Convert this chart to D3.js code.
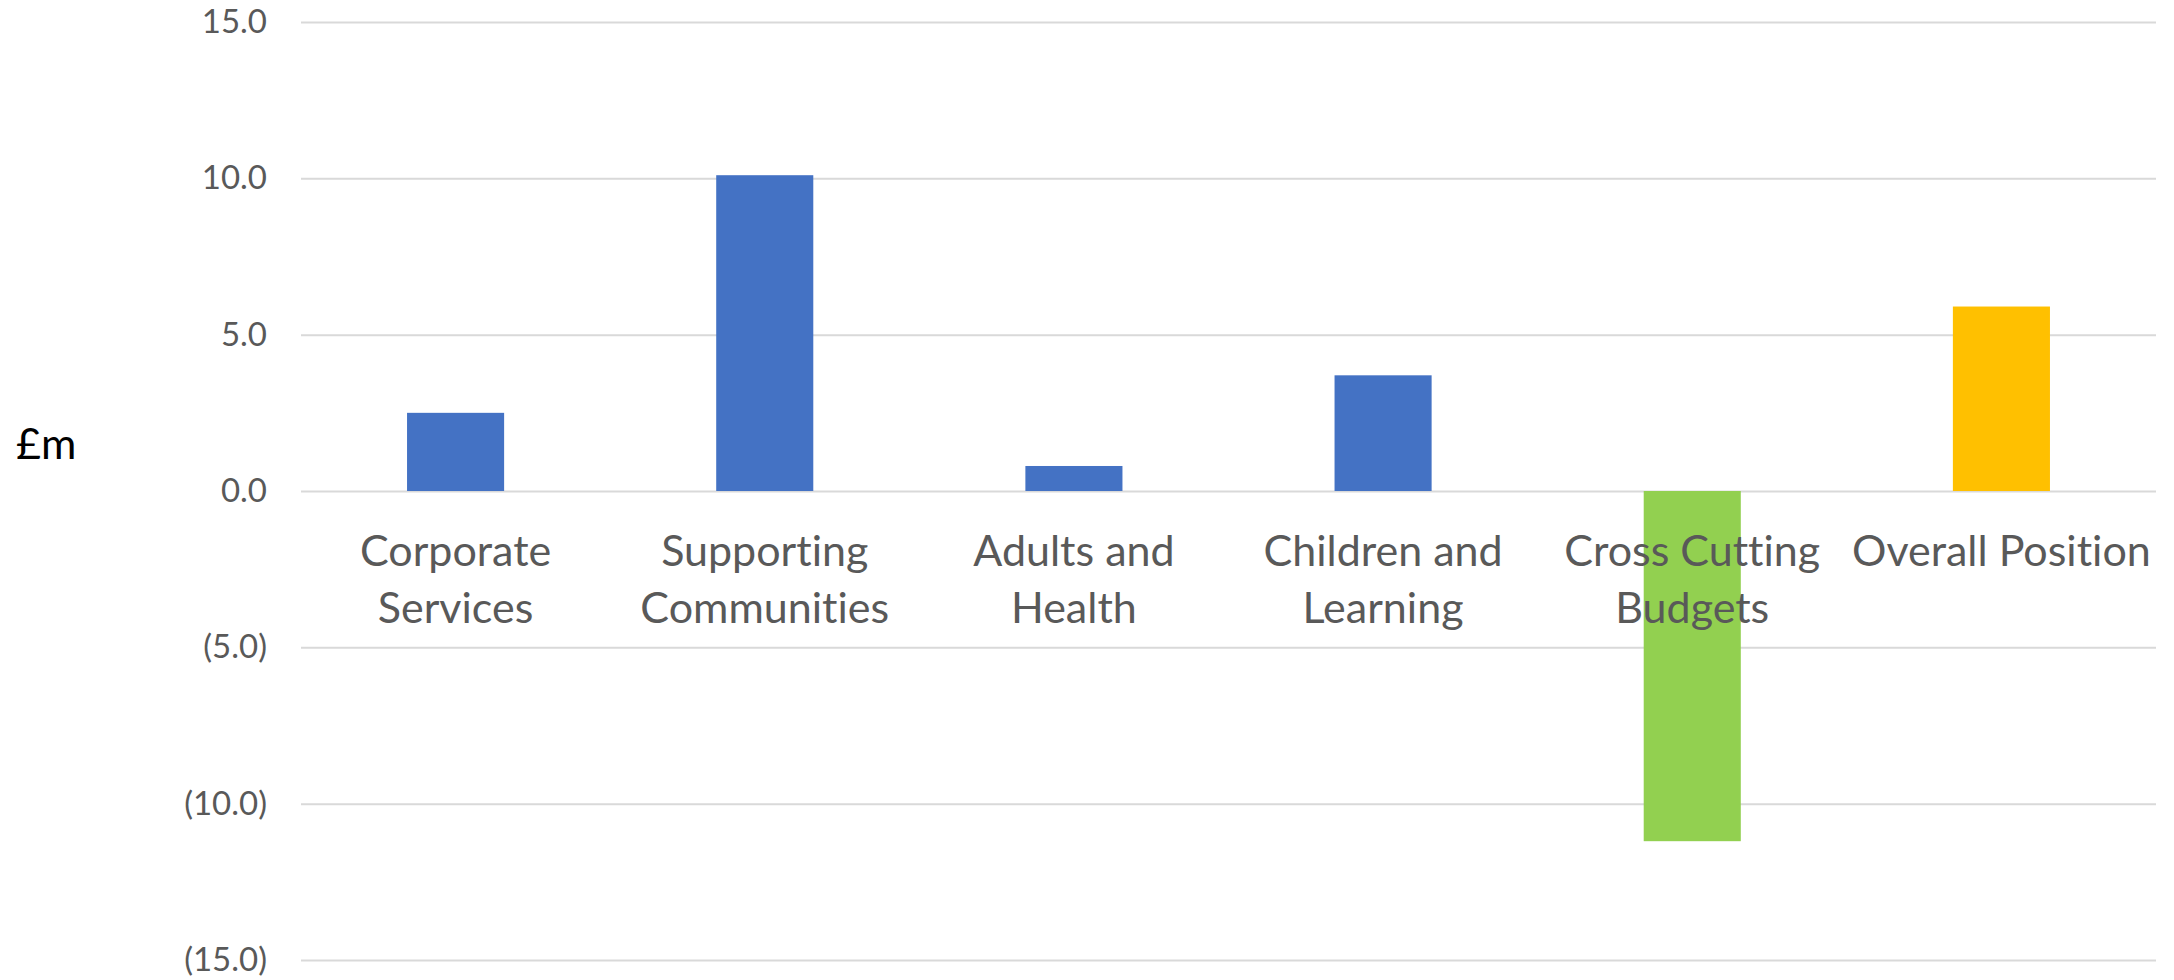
<!DOCTYPE html>
<html>
<head>
<meta charset="utf-8">
<script src="https://cdn.jsdelivr.net/npm/d3@7"></script>
<style>
  body { margin: 0; background: #fff; }
  text { font-family: Lato, "Open Sans", sans-serif; font-variant-ligatures: none; font-feature-settings: "liga" 0, "clig" 0; }
</style>
</head>
<body>
<div id="bar_chart"></div>
<script>
//Data
var categories = ["Corporate Services", "Supporting Communities", "Adults and Health",
                  "Children and Learning", "Cross Cutting Budgets", "Overall Position"];
var values = [2.5, 10.1, 0.8, 3.7, -11.2, 5.9];
var barColors = ["#4472C4", "#4472C4", "#4472C4", "#4472C4", "#92D050", "#FFC000"];
var yTicks = [-15, -10, -5, 0, 5, 10, 15];

//Set Margins
var margin = {top: 22, right: 18, bottom: 20, left: 301},
    width = 2174 - margin.left - margin.right,
    height = 980 - margin.top - margin.bottom;

var svg = d3.select("#bar_chart")
  .append("svg")
    .attr("width", 2174)
    .attr("height", 980)
  .append("g")
    .attr("transform", "translate(" + margin.left + "," + margin.top + ")");

//Y Axis
var y = d3.scaleLinear()
  .domain([-15, 15])
  .range([height, 0]);

var fmt = d3.format(".1f");
var yAxis = svg.append("g")
  .call(d3.axisLeft(y)
    .tickValues(yTicks)
    .tickSize(-width)
    .tickPadding(34)
    .tickFormat(function(d) { return d < 0 ? "(" + fmt(-d) + ")" : fmt(d); }));
yAxis.select(".domain").remove();
yAxis.selectAll("line")
  .attr("stroke", "#d9d9d9")
  .attr("stroke-width", 2);
yAxis.selectAll("text")
  .attr("fill", "#595959")
  .style("font-size", "33px")
  .style("font-family", "Lato, 'Open Sans', sans-serif");

//X scale
var x = d3.scaleBand()
  .domain(categories)
  .range([0, width])
  .paddingInner(0.686)
  .paddingOuter(0.343);

//Bars
svg.selectAll("rect.bar")
  .data(values)
  .enter()
  .append("rect")
    .attr("class", "bar")
    .attr("x", function(d, i) { return x(categories[i]); })
    .attr("y", function(d) { return y(Math.max(d, 0)); })
    .attr("width", x.bandwidth())
    .attr("height", function(d) { return Math.abs(y(d) - y(0)); })
    .attr("fill", function(d, i) { return barColors[i]; });

//Category labels (wrapped to the band width like Excel does)
var labels = svg.selectAll("text.cat")
  .data(categories)
  .enter()
  .append("text")
    .attr("class", "cat")
    .attr("text-anchor", "middle")
    .attr("fill", "#595959")
    .style("font-size", "43px")
    .attr("x", function(d) { return x(d) + x.bandwidth() / 2; })
    .attr("y", y(0) + 75);

labels.each(function(d) {
  var t = d3.select(this),
      words = d.split(" "),
      line = [],
      maxW = x.step() * 1.03;
  var tspan = t.append("tspan").attr("x", t.attr("x")).attr("dy", 0);
  words.forEach(function(w) {
    line.push(w);
    tspan.text(line.join(" "));
    if (tspan.node().getComputedTextLength() > maxW && line.length > 1) {
      line.pop();
      tspan.text(line.join(" "));
      line = [w];
      tspan = t.append("tspan").attr("x", t.attr("x")).attr("dy", 57).text(w);
    }
  });
});

//Y label
svg.append("text")
  .attr("x", 16 - margin.left)
  .attr("y", 459 - margin.top)
  .attr("fill", "#000")
  .style("font-size", "43px")
  .text("£m");
</script>
</body>
</html>
